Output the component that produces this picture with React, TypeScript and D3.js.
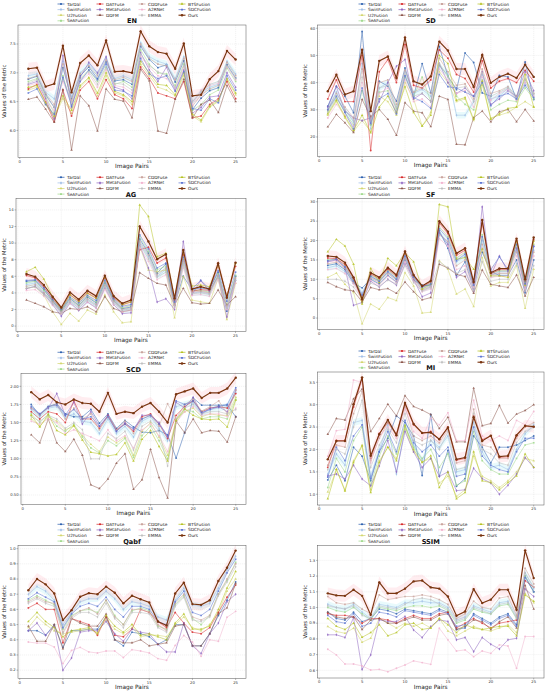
import React from 'react';
import * as d3 from 'd3';

const imagePairs = [1, 2, 3, 4, 5, 6, 7, 8, 9, 10, 11, 12, 13, 14, 15, 16, 17, 18, 19, 20, 21, 22, 23, 24, 25];
const xTicks = [0, 5, 10, 15, 20, 25];

const methods = ['TarDal', 'SwinFusion', 'U2Fusion', 'SeAFusion', 'DATFuse', 'MetaFusion', 'DDFM', 'CDDFuse', 'A2RNet', 'EMMA', 'BTSFusion', 'SDCFusion', 'Ours'];
const methodColors = ['#2b5fae', '#9fbde6', '#d3d66e', '#9fd98c', '#d62728', '#8c62c0', '#8c564b', '#c9a29b', '#f2b3cf', '#bdbdbd', '#b5c21f', '#5b74d2', '#7a3510'];
const methodMarkers = [d3.symbolCircle, d3.symbolDiamond, d3.symbolTriangle, d3.symbolSquare, d3.symbolCircle, d3.symbolDiamond, d3.symbolTriangle, d3.symbolSquare, d3.symbolCircle, d3.symbolDiamond, d3.symbolTriangle, d3.symbolSquare, d3.symbolCircle];
const legendColumns = [[0, 1, 2, 3], [4, 5, 6], [7, 8, 9], [10, 11, 12]];

// rows follow the order of `methods`
const EN = [
  [6.89, 6.94, 6.62, 6.40, 7.09, 6.55, 6.95, 7.10, 6.90, 7.19, 6.86, 6.88, 6.80, 7.46, 7.23, 7.09, 7.14, 6.84, 7.21, 6.36, 6.56, 6.69, 6.74, 7.14, 6.91],
  [6.95, 6.98, 6.66, 6.55, 7.20, 6.58, 7.00, 7.15, 6.98, 7.25, 6.90, 6.95, 6.88, 7.52, 7.28, 7.20, 7.15, 6.90, 7.28, 6.50, 6.66, 6.75, 6.80, 7.20, 6.98],
  [6.70, 6.75, 6.45, 6.22, 6.55, 6.30, 6.75, 6.90, 6.60, 6.95, 6.65, 6.60, 6.45, 7.15, 6.95, 6.75, 6.70, 6.60, 6.95, 6.25, 6.15, 6.40, 6.50, 6.88, 6.62],
  [6.85, 6.90, 6.58, 6.30, 6.95, 6.45, 6.90, 7.05, 6.85, 7.10, 6.80, 6.85, 6.75, 7.40, 7.15, 7.00, 6.98, 6.78, 7.15, 6.35, 6.45, 6.62, 6.70, 7.08, 6.85],
  [6.72, 6.80, 6.50, 6.15, 6.70, 6.25, 6.70, 6.85, 6.55, 6.88, 6.62, 6.55, 6.38, 7.10, 6.90, 6.65, 6.60, 6.55, 6.85, 6.22, 6.25, 6.45, 6.55, 6.85, 6.55],
  [6.80, 6.85, 6.55, 6.20, 7.30, 6.40, 6.92, 7.18, 7.00, 7.28, 6.75, 6.70, 6.55, 7.35, 7.05, 6.85, 7.10, 6.70, 7.05, 6.30, 6.40, 6.58, 6.60, 7.00, 6.75],
  [6.54, 6.58, 6.37, 6.14, 6.71, 5.66, 6.60, 6.43, 5.99, 6.72, 6.54, 6.51, 6.22, 7.06, 6.86, 5.99, 5.95, 6.54, 6.89, 6.22, 6.45, 6.53, 6.31, 6.78, 6.50],
  [6.90, 6.95, 6.64, 6.45, 7.15, 6.52, 6.98, 7.12, 6.95, 7.22, 6.88, 6.92, 6.85, 7.50, 7.25, 7.15, 7.12, 6.88, 7.25, 6.42, 6.62, 6.72, 6.78, 7.18, 6.95],
  [6.78, 6.82, 6.52, 6.35, 6.85, 6.48, 6.85, 6.98, 6.75, 7.05, 6.78, 6.75, 6.65, 7.28, 7.10, 6.95, 6.90, 6.72, 7.10, 6.45, 6.70, 6.78, 6.82, 7.10, 6.88],
  [6.82, 6.88, 6.60, 6.40, 6.90, 6.50, 6.88, 7.02, 6.80, 7.08, 6.82, 6.80, 6.70, 7.32, 7.12, 7.02, 6.95, 6.75, 7.12, 6.50, 6.68, 6.80, 6.85, 7.12, 6.90],
  [6.75, 6.78, 6.48, 6.25, 6.60, 6.35, 6.78, 6.92, 6.65, 7.00, 6.68, 6.62, 6.50, 7.20, 7.00, 6.80, 6.78, 6.62, 7.00, 6.28, 6.18, 6.42, 6.52, 6.90, 6.65],
  [6.65, 6.72, 6.45, 6.28, 6.92, 6.42, 6.85, 7.05, 6.88, 7.15, 6.70, 6.68, 6.60, 7.25, 6.98, 6.90, 6.95, 6.68, 7.02, 6.38, 6.35, 6.55, 6.48, 6.95, 6.70],
  [7.07, 7.09, 6.76, 6.81, 7.47, 6.66, 7.17, 7.30, 7.13, 7.56, 7.02, 7.03, 7.00, 7.72, 7.46, 7.36, 7.33, 7.07, 7.51, 6.60, 6.62, 6.89, 7.03, 7.38, 7.23],
];

const SD = [
  [31.3, 38.7, 35.0, 28.9, 58.8, 24.6, 40.5, 38.7, 33.2, 45.4, 35.0, 47.0, 36.2, 53.3, 42.3, 37.4, 50.9, 47.4, 36.2, 35.0, 42.6, 42.1, 33.8, 47.6, 33.8],
  [30.5, 36.5, 30.0, 25.5, 47.0, 23.0, 38.0, 40.0, 30.0, 44.0, 36.0, 37.5, 35.0, 46.0, 43.0, 28.0, 28.0, 33.0, 43.0, 34.0, 35.0, 38.0, 34.5, 40.0, 35.5],
  [28.0, 33.0, 27.0, 22.0, 26.0, 22.0, 35.0, 33.0, 28.0, 40.0, 34.0, 24.0, 29.0, 44.0, 40.0, 33.0, 34.0, 26.0, 39.0, 27.0, 28.0, 29.0, 31.0, 33.0, 31.0],
  [29.5, 34.5, 29.0, 24.5, 37.0, 24.5, 36.5, 37.0, 30.5, 42.0, 35.0, 42.0, 33.0, 46.5, 42.5, 35.0, 32.0, 30.0, 41.0, 30.0, 32.0, 33.5, 33.0, 38.0, 34.0],
  [34.0, 41.0, 33.0, 33.0, 50.0, 15.0, 44.0, 48.5, 40.0, 54.0, 39.0, 38.0, 41.0, 52.0, 49.0, 43.0, 41.5, 36.5, 48.0, 38.0, 40.5, 41.5, 40.0, 44.5, 40.5],
  [31.0, 38.5, 29.5, 27.0, 26.0, 27.0, 33.0, 40.0, 46.0, 48.5, 34.0, 36.0, 33.0, 47.0, 40.0, 36.0, 38.0, 35.0, 44.0, 32.0, 34.0, 37.0, 35.0, 44.0, 37.0],
  [23.7, 28.3, 25.2, 21.6, 33.8, 27.5, 30.1, 26.5, 20.6, 32.6, 29.5, 28.9, 23.8, 35.0, 33.8, 17.3, 17.1, 27.1, 29.5, 25.6, 29.3, 30.1, 25.6, 30.1, 25.9],
  [30.0, 36.0, 31.0, 27.0, 45.0, 26.0, 40.0, 41.0, 32.0, 44.5, 36.5, 38.0, 36.0, 49.0, 44.0, 39.0, 39.5, 34.0, 45.0, 36.0, 37.0, 38.5, 35.0, 41.0, 36.0],
  [27.0, 32.0, 28.0, 24.0, 40.0, 25.0, 36.0, 38.0, 29.0, 41.0, 33.0, 34.0, 31.0, 45.0, 41.0, 36.0, 37.0, 31.0, 42.0, 33.5, 36.0, 37.5, 33.5, 40.0, 35.0],
  [29.0, 34.0, 30.0, 26.0, 42.0, 25.5, 38.0, 39.0, 31.0, 43.0, 35.0, 36.0, 33.0, 47.0, 42.0, 38.0, 38.5, 33.0, 43.5, 35.0, 36.5, 38.0, 34.0, 41.5, 36.0],
  [28.5, 33.5, 27.5, 22.5, 28.0, 21.5, 31.0, 35.0, 29.0, 38.5, 29.0, 24.0, 28.0, 50.0, 47.0, 33.5, 34.5, 26.5, 40.5, 26.5, 28.5, 30.5, 31.0, 43.0, 31.0],
  [30.0, 35.0, 29.0, 23.0, 38.0, 25.0, 34.0, 36.0, 28.5, 42.5, 34.5, 33.0, 30.5, 43.0, 38.5, 38.0, 36.5, 35.0, 40.0, 31.5, 35.0, 36.0, 34.0, 39.0, 34.5],
  [36.8, 42.9, 35.6, 36.8, 52.1, 29.5, 48.0, 49.6, 41.7, 56.6, 40.5, 39.3, 42.3, 55.1, 51.8, 45.0, 45.0, 38.4, 50.2, 39.9, 42.1, 43.3, 41.7, 46.6, 42.1],
];

const AG = [
  [5.4, 5.5, 4.4, 3.0, 1.8, 3.3, 2.5, 3.5, 2.8, 5.2, 3.1, 2.1, 2.3, 10.5, 8.8, 6.4, 7.5, 2.6, 6.0, 4.4, 4.6, 4.4, 6.5, 1.8, 6.0],
  [5.0, 5.2, 4.1, 2.8, 1.6, 3.0, 2.2, 3.2, 2.5, 5.0, 2.9, 1.9, 2.1, 10.0, 8.4, 6.0, 6.8, 2.4, 7.5, 4.0, 4.1, 3.9, 6.0, 2.2, 5.6],
  [4.55, 4.75, 3.74, 1.73, 0.2, 1.53, 0.6, 1.93, 1.45, 3.74, 1.73, 0.4, 0.52, 9.58, 6.76, 6.56, 6.76, 1.0, 5.96, 3.14, 2.94, 2.74, 5.75, 0.8, 5.15],
  [5.2, 5.4, 4.3, 3.1, 1.9, 3.4, 2.6, 3.6, 2.9, 5.3, 3.2, 2.2, 2.5, 10.8, 9.0, 6.8, 7.2, 2.7, 8.0, 4.3, 4.3, 4.1, 6.3, 2.6, 6.1],
  [6.1, 5.8, 4.7, 3.3, 2.1, 3.8, 3.0, 4.0, 3.4, 5.8, 3.4, 2.6, 2.9, 9.2, 9.5, 7.6, 8.2, 3.1, 8.6, 4.2, 4.4, 4.3, 7.3, 3.6, 7.2],
  [4.5, 4.8, 3.9, 2.6, 1.2, 2.8, 1.9, 2.9, 2.2, 4.6, 2.6, 1.5, 1.6, 9.8, 7.0, 2.9, 3.3, 2.0, 10.2, 3.8, 5.5, 4.2, 6.0, 1.1, 5.5],
  [3.14, 2.74, 2.33, 1.73, 1.53, 2.13, 2.0, 2.33, 1.73, 3.54, 2.13, 1.73, 1.93, 6.44, 5.75, 5.15, 4.95, 2.54, 4.55, 2.82, 2.66, 2.74, 4.35, 2.54, 3.54],
  [4.8, 5.0, 4.0, 2.9, 1.7, 3.1, 2.4, 3.3, 2.6, 4.9, 3.0, 2.0, 2.2, 10.2, 8.6, 6.2, 7.0, 2.5, 7.8, 4.1, 4.2, 4.0, 6.1, 2.4, 5.8],
  [4.3, 4.4, 3.6, 2.5, 1.5, 2.7, 2.0, 2.9, 2.2, 4.4, 2.6, 1.7, 1.9, 9.5, 7.8, 5.6, 6.2, 2.2, 7.0, 3.7, 3.8, 3.6, 5.6, 2.0, 5.2],
  [4.6, 4.7, 3.8, 2.7, 1.6, 2.9, 2.2, 3.1, 2.4, 4.7, 2.8, 1.9, 2.0, 9.9, 8.1, 5.9, 6.5, 2.3, 7.3, 3.9, 4.0, 3.8, 5.9, 2.2, 5.5],
  [6.56, 7.08, 5.67, 3.54, 2.0, 3.74, 2.94, 3.94, 3.34, 5.96, 3.62, 2.54, 2.94, 14.6, 13.2, 8.37, 8.77, 3.34, 8.97, 4.83, 4.95, 4.75, 7.36, 3.54, 7.57],
  [5.5, 5.6, 4.6, 3.2, 2.0, 3.5, 2.8, 3.7, 3.1, 5.5, 3.3, 2.4, 2.6, 11.0, 9.3, 7.0, 7.6, 2.9, 8.3, 4.5, 5.5, 4.5, 6.7, 3.0, 6.5],
  [6.28, 5.96, 4.95, 3.54, 2.25, 4.06, 3.22, 4.27, 3.62, 6.08, 3.62, 2.74, 3.14, 12.0, 10.2, 8.05, 8.65, 3.34, 9.17, 4.47, 4.75, 4.47, 7.57, 3.42, 7.65],
];

const SF = [
  [13.6, 14.0, 12.5, 9.0, 7.8, 10.0, 8.8, 11.0, 9.3, 15.0, 9.8, 8.5, 8.3, 22.5, 18.0, 11.0, 14.5, 7.5, 17.0, 12.0, 11.0, 11.0, 15.0, 6.5, 15.0],
  [13.0, 13.5, 12.0, 9.5, 6.5, 10.5, 9.8, 11.8, 10.2, 15.5, 10.5, 7.5, 8.2, 22.0, 19.5, 14.5, 16.0, 8.5, 20.0, 11.0, 12.0, 12.0, 17.5, 8.0, 17.5],
  [10.5, 11.6, 8.7, 6.6, -1.5, 3.6, 2.3, 5.3, 4.5, 11.7, 8.3, 1.3, 1.5, 14.8, 12.6, 6.2, 7.5, 3.0, 15.6, 8.3, 9.2, 9.2, 13.5, 2.5, 12.6],
  [15.0, 15.2, 13.5, 9.8, 5.5, 11.0, 10.0, 12.3, 10.5, 16.5, 10.8, 7.8, 9.0, 23.5, 21.0, 15.5, 17.0, 8.8, 21.5, 11.5, 12.2, 12.2, 19.0, 9.0, 19.0],
  [15.5, 15.3, 13.8, 10.2, 4.5, 11.3, 10.2, 12.6, 10.8, 16.8, 10.9, 8.0, 9.3, 24.5, 21.8, 16.2, 17.5, 9.0, 24.5, 11.4, 12.5, 12.5, 20.0, 9.5, 20.2],
  [14.5, 15.0, 13.0, 3.3, 4.0, 9.5, 8.0, 10.0, 8.5, 14.0, 10.0, 5.5, 6.5, 22.0, 19.0, 10.5, 12.0, 7.0, 28.7, 11.0, 16.0, 12.0, 18.0, 7.0, 18.5],
  [9.2, 8.1, 7.3, 7.0, 4.2, 7.9, 7.3, 7.6, 6.4, 9.3, 6.8, 4.7, 5.3, 13.9, 12.9, 11.3, 10.7, 6.4, 12.4, 8.7, 8.3, 7.9, 11.1, 5.7, 10.5],
  [14.0, 14.4, 12.8, 9.3, 5.8, 10.3, 9.3, 11.5, 9.8, 15.2, 10.2, 7.2, 8.0, 21.5, 19.8, 13.5, 15.0, 8.2, 19.0, 11.2, 11.5, 11.5, 17.0, 8.2, 17.0],
  [12.5, 12.8, 11.5, 8.8, 5.2, 9.8, 8.5, 10.8, 9.2, 14.5, 9.5, 6.8, 7.5, 20.5, 18.5, 12.5, 13.5, 7.8, 18.0, 10.5, 10.8, 10.8, 16.0, 7.5, 16.0],
  [10.0, 10.0, 9.5, 8.0, 5.0, 9.0, 8.2, 9.8, 8.8, 13.5, 9.2, 7.0, 7.8, 14.5, 13.0, 11.5, 12.5, 7.2, 14.5, 9.5, 10.0, 10.0, 14.0, 7.0, 13.5],
  [17.1, 20.3, 18.6, 13.9, 3.6, 12.8, 9.2, 15.4, 13.5, 16.9, 14.5, 7.5, 8.7, 29.3, 28.7, 15.2, 15.6, 12.6, 17.8, 10.9, 10.9, 10.5, 19.9, 8.5, 19.9],
  [14.8, 15.2, 13.2, 9.6, 6.0, 10.8, 9.5, 12.0, 10.0, 16.0, 10.6, 8.0, 8.8, 23.0, 20.5, 14.8, 16.5, 8.5, 21.0, 12.5, 15.8, 12.5, 19.0, 8.8, 18.5],
  [16.0, 15.8, 14.3, 10.5, 4.9, 11.7, 10.5, 13.0, 11.1, 17.2, 11.1, 8.3, 9.6, 25.0, 22.3, 16.7, 18.0, 9.3, 25.3, 11.7, 12.8, 12.8, 20.5, 10.0, 20.8],
];

const SCD = [
  [1.75, 1.60, 1.72, 1.76, 1.62, 1.58, 1.58, 1.68, 1.49, 1.62, 1.42, 1.53, 1.44, 1.37, 1.36, 1.39, 1.33, 1.01, 1.36, 1.84, 1.74, 1.74, 1.74, 1.74, 1.58],
  [1.68, 1.58, 1.70, 1.72, 1.58, 1.62, 1.52, 1.50, 1.35, 1.55, 1.35, 1.45, 1.30, 1.52, 1.58, 1.42, 1.25, 1.72, 1.75, 1.78, 1.62, 1.68, 1.70, 1.72, 1.92],
  [1.55, 1.45, 1.58, 1.52, 1.40, 1.45, 1.32, 1.20, 1.10, 1.30, 1.22, 1.30, 1.05, 1.38, 1.50, 1.30, 1.05, 1.55, 1.65, 1.70, 1.58, 1.62, 1.60, 1.60, 1.85],
  [1.62, 1.50, 1.62, 1.45, 1.38, 1.48, 1.30, 1.15, 1.08, 1.25, 1.18, 1.28, 1.02, 1.32, 1.45, 1.25, 1.00, 1.50, 1.68, 1.65, 1.55, 1.58, 1.58, 1.55, 1.82],
  [1.65, 1.55, 1.65, 1.62, 1.50, 1.80, 1.55, 1.55, 1.42, 1.60, 1.40, 1.48, 1.38, 1.58, 1.62, 1.48, 1.28, 1.60, 1.72, 1.80, 1.65, 1.70, 1.72, 1.70, 1.90],
  [1.70, 1.62, 1.70, 1.90, 1.60, 1.78, 1.48, 1.65, 1.45, 1.60, 1.38, 1.50, 1.40, 1.60, 1.60, 1.50, 1.30, 1.78, 1.70, 1.85, 1.62, 1.70, 1.72, 1.65, 1.95],
  [1.33, 1.22, 1.55, 1.22, 1.10, 1.27, 1.05, 0.64, 0.59, 0.72, 0.94, 1.07, 0.58, 0.71, 1.13, 0.74, 0.46, 1.52, 1.36, 1.55, 1.36, 1.39, 1.38, 1.23, 1.58],
  [1.70, 1.60, 1.72, 1.75, 1.55, 1.70, 1.55, 1.62, 1.40, 1.58, 1.40, 1.52, 1.35, 1.55, 1.60, 1.45, 1.76, 1.55, 1.75, 1.82, 1.66, 1.72, 1.80, 1.62, 1.95],
  [1.52, 1.48, 1.55, 1.50, 1.35, 1.40, 1.35, 1.30, 1.25, 1.40, 1.25, 1.32, 1.15, 1.40, 1.48, 1.32, 1.10, 1.50, 1.65, 1.72, 1.60, 1.62, 1.62, 1.58, 1.70],
  [1.58, 1.52, 1.60, 1.55, 1.42, 1.50, 1.40, 1.00, 1.00, 1.35, 1.28, 1.38, 1.12, 1.45, 1.52, 1.38, 0.90, 1.55, 1.70, 1.75, 1.62, 1.65, 1.65, 1.62, 1.68],
  [1.60, 1.44, 1.61, 1.39, 1.33, 1.46, 1.26, 1.09, 1.07, 1.04, 1.06, 1.22, 0.97, 1.27, 1.39, 1.17, 0.97, 1.53, 1.69, 1.60, 1.55, 1.54, 1.55, 1.44, 1.81],
  [1.72, 1.62, 1.72, 1.74, 1.60, 1.68, 1.55, 1.58, 1.45, 1.58, 1.38, 1.48, 1.42, 1.55, 1.60, 1.48, 1.32, 1.80, 1.75, 1.80, 1.64, 1.68, 1.72, 1.75, 1.98],
  [1.92, 1.82, 1.88, 1.78, 1.75, 1.82, 1.77, 1.76, 1.65, 1.91, 1.62, 1.65, 1.63, 1.72, 1.77, 1.65, 1.50, 1.89, 1.93, 1.97, 1.84, 1.91, 1.91, 1.97, 2.12],
];

const MI = [
  [1.32, 1.65, 1.30, 2.05, 1.85, 1.30, 1.95, 2.25, 2.75, 2.60, 2.30, 1.42, 2.78, 1.40, 1.98, 1.18, 1.35, 2.30, 2.05, 1.70, 2.05, 2.05, 2.10, 2.20, 2.30],
  [1.45, 1.90, 1.65, 2.60, 2.65, 1.40, 2.00, 2.55, 1.45, 2.50, 2.10, 1.75, 2.20, 2.05, 2.30, 1.50, 1.55, 2.60, 1.95, 1.60, 1.65, 1.55, 2.00, 2.35, 2.55],
  [1.05, 1.55, 1.10, 1.75, 2.10, 1.10, 1.75, 2.05, 1.80, 2.45, 1.95, 1.72, 1.80, 1.25, 1.40, 0.95, 1.10, 1.85, 1.40, 1.30, 1.15, 1.30, 1.50, 1.80, 1.75],
  [1.15, 1.80, 1.50, 2.20, 2.50, 1.20, 1.85, 2.30, 1.90, 2.55, 2.05, 1.80, 2.00, 1.60, 1.90, 1.20, 1.30, 2.40, 1.75, 1.55, 1.45, 1.45, 1.80, 2.10, 2.15],
  [1.60, 2.20, 2.20, 2.95, 3.58, 1.80, 2.36, 2.60, 2.35, 3.00, 2.55, 2.36, 2.40, 2.22, 2.50, 1.76, 1.80, 2.75, 2.22, 2.30, 1.82, 1.84, 2.30, 2.52, 2.50],
  [1.41, 1.45, 1.34, 1.65, 1.34, 1.19, 1.63, 2.20, 1.50, 2.40, 1.95, 1.60, 1.80, 1.40, 1.50, 1.08, 1.10, 1.58, 1.35, 1.25, 1.00, 1.20, 1.45, 1.82, 1.60],
  [2.34, 2.69, 2.66, 3.13, 3.35, 2.40, 2.69, 3.01, 2.75, 3.20, 2.96, 2.88, 2.78, 2.47, 2.72, 2.17, 2.17, 3.37, 2.53, 2.58, 2.98, 2.59, 2.79, 2.87, 3.00],
  [1.65, 2.10, 2.05, 2.80, 3.30, 1.75, 2.25, 2.60, 2.30, 2.95, 2.30, 2.20, 2.30, 2.15, 2.45, 1.70, 1.75, 2.90, 2.10, 2.05, 1.80, 1.80, 2.25, 2.50, 2.60],
  [1.85, 2.42, 2.45, 3.55, 3.50, 1.70, 2.30, 2.50, 2.25, 2.90, 2.40, 2.25, 2.70, 2.55, 2.82, 2.20, 2.20, 3.10, 2.30, 2.20, 2.30, 2.20, 2.65, 2.55, 2.85],
  [1.55, 2.00, 1.90, 2.50, 3.10, 1.60, 2.10, 2.45, 2.15, 2.80, 2.20, 2.10, 2.20, 2.00, 2.40, 1.55, 1.60, 2.80, 2.00, 1.90, 1.70, 1.65, 2.15, 2.40, 2.50],
  [0.90, 1.56, 1.07, 1.71, 2.08, 1.04, 1.71, 2.05, 1.75, 2.53, 2.00, 1.71, 1.86, 1.15, 1.49, 0.90, 1.04, 1.95, 1.30, 1.26, 1.10, 1.26, 1.41, 1.90, 1.60],
  [1.38, 2.05, 1.75, 2.30, 2.55, 1.35, 1.95, 2.40, 1.95, 2.65, 2.15, 1.95, 2.10, 1.85, 2.05, 1.40, 1.45, 2.50, 1.85, 1.65, 1.55, 1.50, 1.95, 2.25, 2.25],
  [1.78, 2.19, 2.19, 3.01, 3.61, 1.86, 2.34, 2.66, 2.32, 3.04, 2.57, 2.37, 2.38, 2.23, 2.49, 1.78, 1.82, 2.72, 2.19, 2.31, 1.84, 1.86, 2.32, 2.53, 2.51],
];

const QABF = [
  [0.46, 0.46, 0.43, 0.50, 0.35, 0.46, 0.46, 0.47, 0.47, 0.55, 0.40, 0.36, 0.45, 0.44, 0.42, 0.37, 0.40, 0.50, 0.50, 0.36, 0.36, 0.44, 0.56, 0.66, 0.78],
  [0.70, 0.75, 0.72, 0.66, 0.50, 0.58, 0.65, 0.67, 0.67, 0.72, 0.67, 0.60, 0.65, 0.64, 0.62, 0.55, 0.53, 0.66, 0.74, 0.63, 0.62, 0.64, 0.74, 0.86, 0.95],
  [0.48, 0.55, 0.50, 0.46, 0.44, 0.45, 0.46, 0.47, 0.45, 0.53, 0.47, 0.44, 0.48, 0.42, 0.43, 0.43, 0.42, 0.50, 0.55, 0.48, 0.46, 0.50, 0.58, 0.72, 0.80],
  [0.66, 0.69, 0.66, 0.63, 0.47, 0.56, 0.59, 0.60, 0.58, 0.66, 0.56, 0.50, 0.59, 0.61, 0.59, 0.49, 0.47, 0.63, 0.69, 0.54, 0.50, 0.56, 0.70, 0.79, 0.91],
  [0.61, 0.64, 0.60, 0.60, 0.38, 0.54, 0.52, 0.50, 0.43, 0.55, 0.43, 0.42, 0.47, 0.60, 0.58, 0.52, 0.48, 0.58, 0.51, 0.45, 0.44, 0.48, 0.58, 0.68, 0.76],
  [0.46, 0.51, 0.43, 0.49, 0.20, 0.28, 0.45, 0.46, 0.46, 0.52, 0.44, 0.39, 0.47, 0.45, 0.44, 0.37, 0.32, 0.32, 0.51, 0.36, 0.31, 0.44, 0.51, 0.65, 0.70],
  [0.49, 0.39, 0.39, 0.50, 0.34, 0.54, 0.51, 0.49, 0.49, 0.57, 0.40, 0.38, 0.38, 0.40, 0.36, 0.37, 0.38, 0.49, 0.50, 0.36, 0.36, 0.44, 0.57, 0.61, 0.77],
  [0.65, 0.68, 0.65, 0.64, 0.45, 0.55, 0.59, 0.61, 0.57, 0.66, 0.55, 0.50, 0.60, 0.60, 0.58, 0.50, 0.46, 0.64, 0.70, 0.55, 0.53, 0.56, 0.70, 0.80, 0.90],
  [0.385, 0.378, 0.378, 0.352, 0.243, 0.33, 0.35, 0.32, 0.313, 0.326, 0.326, 0.283, 0.335, 0.326, 0.313, 0.276, 0.265, 0.363, 0.428, 0.385, 0.291, 0.40, 0.39, 0.548, 0.587],
  [0.64, 0.67, 0.64, 0.62, 0.44, 0.54, 0.58, 0.58, 0.55, 0.64, 0.54, 0.48, 0.58, 0.58, 0.57, 0.48, 0.45, 0.62, 0.68, 0.53, 0.52, 0.55, 0.69, 0.78, 0.88],
  [0.52, 0.58, 0.52, 0.48, 0.42, 0.46, 0.47, 0.48, 0.44, 0.56, 0.49, 0.45, 0.50, 0.43, 0.44, 0.42, 0.40, 0.51, 0.57, 0.47, 0.47, 0.49, 0.60, 0.74, 0.85],
  [0.67, 0.71, 0.68, 0.65, 0.48, 0.57, 0.62, 0.64, 0.62, 0.68, 0.60, 0.55, 0.62, 0.62, 0.60, 0.52, 0.50, 0.65, 0.72, 0.58, 0.56, 0.60, 0.72, 0.84, 0.93],
  [0.726, 0.80, 0.765, 0.705, 0.53, 0.595, 0.683, 0.707, 0.70, 0.75, 0.71, 0.64, 0.69, 0.667, 0.646, 0.52, 0.494, 0.705, 0.776, 0.635, 0.63, 0.66, 0.787, 0.874, 0.987],
];

const SSIM = [
  [0.97, 0.93, 0.92, 0.97, 0.91, 0.93, 0.99, 0.98, 0.96, 0.99, 0.98, 0.97, 0.96, 0.99, 0.97, 0.86, 0.87, 0.96, 0.93, 0.90, 0.94, 0.96, 0.89, 1.20, 1.10],
  [1.02, 1.00, 0.99, 1.02, 0.97, 0.93, 1.02, 1.01, 1.00, 1.03, 1.03, 1.04, 1.03, 1.03, 1.00, 0.92, 0.94, 1.01, 0.99, 0.97, 1.03, 1.04, 0.94, 1.22, 1.12],
  [0.879, 0.847, 0.836, 0.868, 0.779, 0.804, 0.932, 0.90, 0.87, 0.90, 0.88, 0.90, 0.87, 0.93, 0.85, 0.82, 0.85, 0.88, 0.86, 0.85, 0.87, 0.89, 0.84, 1.09, 1.03],
  [1.00, 0.98, 0.97, 1.00, 0.96, 0.92, 1.00, 0.99, 0.98, 1.00, 1.01, 1.01, 1.00, 1.01, 0.98, 0.90, 0.92, 0.99, 0.97, 0.96, 1.01, 1.02, 0.93, 1.20, 1.10],
  [0.96, 0.95, 0.95, 0.94, 0.90, 0.93, 0.93, 0.92, 0.90, 0.93, 0.95, 0.93, 0.93, 0.96, 0.97, 0.87, 0.90, 0.93, 0.90, 0.87, 0.90, 0.91, 0.92, 1.17, 1.13],
  [0.826, 0.826, 0.809, 0.936, 0.606, 0.698, 0.921, 0.911, 0.911, 0.943, 0.857, 0.809, 0.879, 0.921, 0.911, 0.794, 0.809, 0.719, 0.809, 0.766, 0.736, 0.794, 0.804, 1.117, 1.07],
  [0.97, 0.94, 0.93, 0.94, 0.86, 0.92, 0.93, 0.90, 0.90, 0.92, 0.94, 0.92, 0.92, 0.95, 0.96, 0.86, 0.88, 0.92, 0.91, 0.86, 0.91, 0.94, 0.87, 1.14, 0.99],
  [1.07, 1.03, 1.02, 1.03, 0.99, 0.96, 1.08, 1.05, 1.06, 1.07, 1.07, 1.08, 1.07, 1.05, 1.02, 0.93, 0.96, 1.04, 1.00, 0.99, 1.06, 1.07, 0.95, 1.25, 1.15],
  [0.734, 0.698, 0.64, 0.64, 0.628, 0.602, 0.606, 0.591, 0.613, 0.634, 0.66, 0.649, 0.638, 0.868, 0.794, 0.723, 0.73, 0.687, 0.723, 0.708, 0.762, 0.755, 0.613, 0.815, 0.815],
  [1.01, 1.00, 0.99, 1.01, 0.95, 0.93, 1.01, 1.00, 0.99, 1.02, 1.05, 1.06, 1.05, 1.02, 0.99, 0.91, 0.93, 1.00, 0.98, 0.96, 1.02, 1.03, 0.93, 1.22, 1.13],
  [0.93, 0.88, 0.86, 0.90, 0.81, 0.84, 0.89, 0.82, 0.84, 0.89, 0.90, 0.86, 0.87, 0.93, 0.89, 0.84, 0.89, 0.87, 0.86, 0.87, 0.88, 0.88, 0.82, 1.08, 1.04],
  [0.95, 0.91, 0.90, 0.96, 0.88, 0.90, 0.97, 0.96, 0.94, 0.98, 0.97, 0.96, 0.95, 0.98, 0.96, 0.88, 0.89, 0.95, 0.92, 0.89, 0.93, 0.95, 0.88, 1.19, 1.10],
  [1.09, 1.077, 1.074, 1.113, 1.074, 0.953, 1.16, 1.09, 1.09, 1.12, 1.166, 1.172, 1.128, 1.12, 1.07, 0.947, 0.974, 1.117, 1.028, 1.05, 1.113, 1.113, 0.985, 1.364, 1.187],
];

const enTicks = [6.0, 6.5, 7.0, 7.5];
const sdTicks = [20, 30, 40, 50, 60];
const agTicks = [0, 2, 4, 6, 8, 10, 12, 14];
const sfTicks = [0, 5, 10, 15, 20, 25, 30];
const scdTicks = [0.5, 0.75, 1.0, 1.25, 1.5, 1.75, 2.0];
const miTicks = [1.0, 1.5, 2.0, 2.5, 3.0, 3.5];
const qabfTicks = [0.2, 0.3, 0.4, 0.5, 0.6, 0.7, 0.8, 0.9, 1.0];
const ssimTicks = [0.6, 0.7, 0.8, 0.9, 1.0, 1.1, 1.2, 1.3];

const rowTop = [0, 170, 345, 518];
const FONT = 'DejaVu Sans, sans-serif';

interface PanelProps {
  title: string;
  data: number[][];
  yDomain: [number, number];
  yTicks: number[];
  fmt: string;
  col: number;
  row: number;
  axT: number;
  axB: number;
  axL?: number;
}

const Panel: React.FC<PanelProps> = ({ title, data, yDomain, yTicks, fmt, col, row, axT, axB, axL }) => {
  const ox = col === 0 ? 0 : 275;
  const oy = rowTop[row];
  const left = axL ?? (col === 0 ? 18 : 42.5);
  const right = col === 0 ? 246 : 269;

  const x = d3.scaleLinear().domain([-0.2, 26.2]).range([left, right]);
  const y = d3.scaleLinear().domain(yDomain).range([axB, axT]);
  const format = d3.format(fmt);
  const span = yDomain[1] - yDomain[0];

  const line = d3.line<number>().x((_, i) => x(imagePairs[i])).y(d => y(d));
  const band = (w: number) =>
    d3.area<number>()
      .x((_, i) => x(imagePairs[i]))
      .y0(d => y(d - w * span))
      .y1(d => y(d + w * span));

  const legendX = col === 0 ? [61, 100, 142, 182] : [87, 127, 167, 206];
  const legendY0 = axT - 21;

  return (
    <g transform={`translate(${ox},${oy})`} fontFamily={FONT}>
      {/* legend */}
      {legendColumns.map((items, c) =>
        items.map((m, r) => {
          const lx = legendX[c];
          const ly = legendY0 + r * 5.6;
          const sym = d3.symbol(methodMarkers[m], m === 12 ? 5 : 3.5)();
          return (
            <g key={`lg-${m}`}>
              <line x1={lx - 3.5} x2={lx + 3.5} y1={ly} y2={ly} stroke={methodColors[m]} strokeWidth={m === 12 ? 1.1 : 0.7} />
              <path d={sym ?? ''} transform={`translate(${lx},${ly})`} fill={methodColors[m]} />
              <text x={lx + 6} y={ly + 1.5} fontSize={4.3} fill="#222">{methods[m]}</text>
            </g>
          );
        })
      )}

      <text x={(left + right) / 2} y={axT - 1.8} textAnchor="middle" fontSize={6.6} fontWeight="bold" fill="#111">{title}</text>

      {/* grid */}
      {xTicks.map(t => (
        <line key={`gx-${t}`} x1={x(t)} x2={x(t)} y1={axT} y2={axB} stroke="#dcdcdc" strokeWidth={0.35} strokeDasharray="1.2,0.8" />
      ))}
      {yTicks.map(t => (
        <line key={`gy-${t}`} x1={left} x2={right} y1={y(t)} y2={y(t)} stroke="#dcdcdc" strokeWidth={0.35} strokeDasharray="1.2,0.8" />
      ))}

      {/* shaded bands */}
      <path d={band(0.025)(data[1]) ?? ''} fill="#7fe3ec" opacity={0.18} />
      <path d={band(0.045)(data[12]) ?? ''} fill="#ff8fa3" opacity={0.16} />

      {/* series */}
      {data.map((values, m) => (
        <g key={`s-${m}`} opacity={m === 12 ? 1 : 0.85}>
          <path d={line(values) ?? ''} fill="none" stroke={methodColors[m]} strokeWidth={m === 12 ? 1.15 : 0.6} />
          {values.map((v, i) => (
            <path
              key={i}
              d={d3.symbol(methodMarkers[m], m === 12 ? 4.5 : 2.8)() ?? ''}
              transform={`translate(${x(imagePairs[i])},${y(v)})`}
              fill={methodColors[m]}
            />
          ))}
        </g>
      ))}

      {/* frame */}
      <rect x={left} y={axT} width={right - left} height={axB - axT} fill="none" stroke="#555" strokeWidth={0.5} />

      {/* x axis */}
      {xTicks.map(t => (
        <g key={`xt-${t}`}>
          <line x1={x(t)} x2={x(t)} y1={axB} y2={axB + 1.5} stroke="#555" strokeWidth={0.4} />
          <text x={x(t)} y={axB + 5.2} textAnchor="middle" fontSize={3.8} fill="#333">{t}</text>
        </g>
      ))}
      <text x={(left + right) / 2} y={axB + 10.6} textAnchor="middle" fontSize={5.8} fill="#222">Image Pairs</text>

      {/* y axis */}
      {yTicks.map(t => (
        <g key={`yt-${t}`}>
          <line x1={left - 1.5} x2={left} y1={y(t)} y2={y(t)} stroke="#555" strokeWidth={0.4} />
          <text x={left - 2.3} y={y(t) + 1.3} textAnchor="end" fontSize={3.8} fill="#333">{format(t)}</text>
        </g>
      ))}
      <text
        transform={`translate(${col === 0 ? 5.5 : 32},${(axT + axB) / 2}) rotate(-90)`}
        textAnchor="middle"
        fontSize={5.4}
        fill="#222"
      >
        Values of the Metric
      </text>
    </g>
  );
};

export default function App() {
  return (
    <svg width={550} height={691} style={{ position: 'absolute', left: 0, top: 0, background: '#fff' }}>
      <rect width={550} height={691} fill="#fff" />
      <Panel title="EN" data={EN} yDomain={[5.53, 7.83]} yTicks={enTicks} fmt=".1f" col={0} row={0} axT={25} axB={157.5} />
      <Panel title="SD" data={SD} yDomain={[12.8, 61.2]} yTicks={sdTicks} fmt="d" col={1} row={0} axT={25} axB={156.5} />
      <Panel title="AG" data={AG} yDomain={[-0.65, 15.4]} yTicks={agTicks} fmt="d" col={0} row={1} axT={28.3} axB={161.5} axL={16} />
      <Panel title="SF" data={SF} yDomain={[-2.9, 30.9]} yTicks={sfTicks} fmt="d" col={1} row={1} axT={28.3} axB={159.3} />
      <Panel title="SCD" data={SCD} yDomain={[0.372, 2.18]} yTicks={scdTicks} fmt=".2f" col={0} row={2} axT={28.3} axB={159.3} axL={21} />
      <Panel title="MI" data={MI} yDomain={[0.76, 3.73]} yTicks={miTicks} fmt=".1f" col={1} row={2} axT={27} axB={160} />
      <Panel title="Qabf" data={QABF} yDomain={[0.145, 1.022]} yTicks={qabfTicks} fmt=".1f" col={0} row={3} axT={27.3} axB={160.5} />
      <Panel title="SSIM" data={SSIM} yDomain={[0.551, 1.396]} yTicks={ssimTicks} fmt=".1f" col={1} row={3} axT={27.3} axB={160} />
    </svg>
  );
}
